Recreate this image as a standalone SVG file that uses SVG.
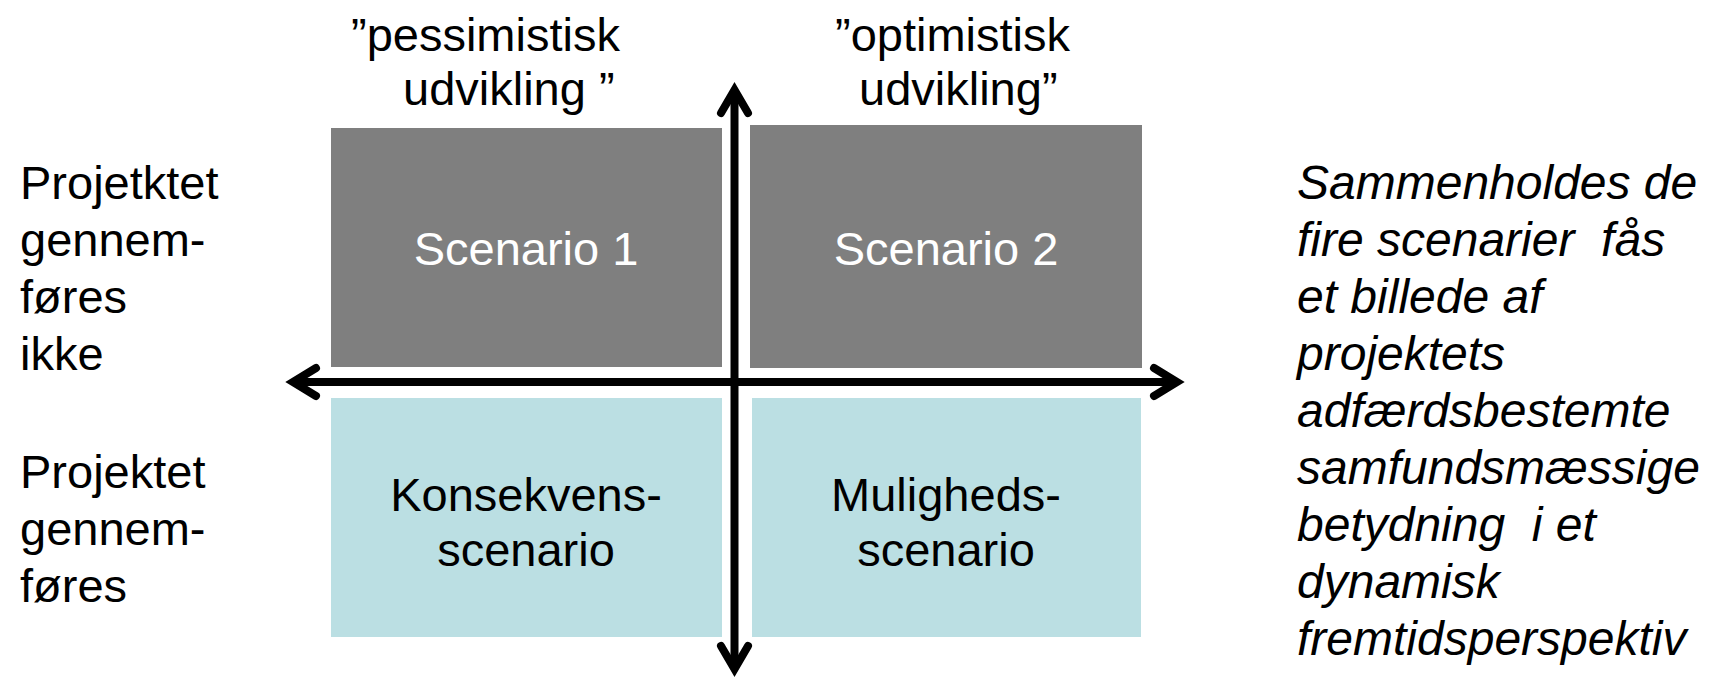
<svg xmlns="http://www.w3.org/2000/svg" width="1709" height="678" viewBox="0 0 1709 678">
<style>
text{font-family:"Liberation Sans",Arial,sans-serif;font-size:47px;fill:#000;white-space:pre}
.w{fill:#fff}
.c{text-anchor:middle}
.i{font-style:italic;font-size:48px}
.gray{fill:#7f7f7f}
.blue{fill:#bbdfe3}
.ax{stroke:#000;stroke-width:8;fill:none;stroke-linecap:round;stroke-linejoin:miter;stroke-miterlimit:10}
</style>
<g id="scenario1"><rect class="gray" x="331" y="128" width="391" height="239"/><text class="w c" x="526" y="265">Scenario 1</text></g>
<g id="scenario2"><rect class="gray" x="750" y="125" width="392" height="243"/><text class="w c" x="946" y="265">Scenario 2</text></g>
<g id="konsekvens"><rect class="blue" x="331" y="398" width="391" height="239"/><text class="c" x="526" y="511">Konsekvens-</text><text class="c" x="526" y="566">scenario</text></g>
<g id="muligheds"><rect class="blue" x="752" y="398" width="389" height="239"/><text class="c" x="946" y="511">Muligheds-</text><text class="c" x="946" y="566">scenario</text></g>
<g id="connectors">
<path class="ax" style="stroke-linecap:butt" d="M734.5 92 V667"/>
<path class="ax" d="M721 113 L734.5 90 L748 113"/>
<path class="ax" d="M721 646 L734.5 669 L748 646"/>
<path class="ax" style="stroke-linecap:butt" d="M295 382 H1175"/>
<path class="ax" d="M316 368 L293 382 L316 396"/>
<path class="ax" d="M1154 368 L1177 382 L1154 396"/>
</g>
<g id="top-labels">
<text x="351" y="51">”pessimistisk</text>
<text x="403" y="105">udvikling ”</text>
<text x="835" y="51">”optimistisk</text>
<text x="859" y="105">udvikling”</text>
</g>
<g id="left-labels">
<text x="20" y="199">Projetktet</text>
<text x="20" y="256">gennem-</text>
<text x="20" y="313">føres</text>
<text x="20" y="370">ikke</text>
<text x="20" y="488">Projektet</text>
<text x="20" y="545">gennem-</text>
<text x="20" y="602">føres</text>
</g>
<g id="right-text">
<text class="i" x="1297" y="199">Sammenholdes de</text>
<text class="i" x="1297" y="256">fire scenarier  fås</text>
<text class="i" x="1297" y="313">et billede af</text>
<text class="i" x="1297" y="370">projektets</text>
<text class="i" x="1297" y="427">adfærdsbestemte</text>
<text class="i" x="1297" y="484">samfundsmæssige</text>
<text class="i" x="1297" y="541">betydning  i et</text>
<text class="i" x="1297" y="598">dynamisk</text>
<text class="i" x="1297" y="655">fremtidsperspektiv</text>
</g>
</svg>
